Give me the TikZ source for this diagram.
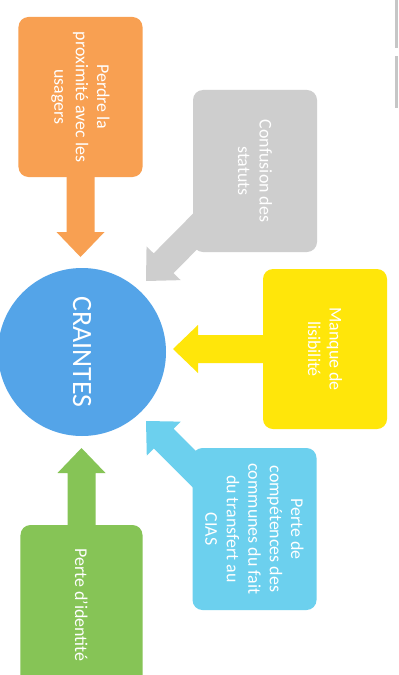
\documentclass[tikz,border=0pt]{standalone}
\usepackage{fontspec}
\setmainfont{Carlito}
\usetikzlibrary{calc}
\definecolor{cOrange}{RGB}{248,160,82}
\definecolor{cGray}{RGB}{206,206,206}
\definecolor{cYellow}{RGB}{255,230,10}
\definecolor{cCyan}{RGB}{108,208,238}
\definecolor{cGreen}{RGB}{134,196,86}
\definecolor{cBlue}{RGB}{84,164,232}
\tikzset{
  box/.style={rectangle, rounded corners=10bp, rotate=-90, minimum width=160bp,
    minimum height=124bp, inner sep=0pt, text=white, align=center,
    font=\fontsize{18}{21.5}\selectfont},
  hub/.style={circle, minimum size=168bp, inner sep=0pt, fill=cBlue, text=white,
    font=\fontsize{28}{30}\selectfont},
}
% block arrow from node #1 to coordinate #2, colour #3
\newcommand{\blockarrow}[3]{%
  \begin{scope}
  \coordinate (hb) at ($(#2)!25bp!(#1)$);
  \fill[#3] ($(#1)!14bp!90:(#2)$) -- ($(hb)!14bp!90:(#2)$) -- ($(hb)!24bp!90:(#2)$)
    -- (#2) -- ($(hb)!24bp!-90:(#2)$) -- ($(hb)!14bp!-90:(#2)$)
    -- ($(#1)!14bp!-90:(#2)$) -- cycle;
  \end{scope}}
\begin{document}
\begin{tikzpicture}[x=1bp,y=-1bp]
\useasboundingbox (0,0) rectangle (398,675);
\fill[white] (0,0) rectangle (398,675);
% coordinates of arrow tips
\coordinate (tO) at (80.5,257);
\coordinate (tG) at (146,281);
\coordinate (tY) at (173,349);
\coordinate (tC) at (146,421);
\coordinate (tN) at (81.5,448);
% anchors at box centres for arrows
\coordinate (cO) at (80.5,97);
\coordinate (cG) at (255,171);
\coordinate (cY) at (325,349);
\coordinate (cC) at (254.5,529);
\coordinate (cN) at (81.5,605);
\blockarrow{cO}{tO}{cOrange}
\blockarrow{cG}{tG}{cGray}
\blockarrow{cY}{tY}{cYellow}
\blockarrow{cC}{tC}{cCyan}
\blockarrow{cN}{tN}{cGreen}
% boxes
\node[box, fill=cOrange] (orange) at (cO) {Perdre la\\proximité avec les\\usagers};
\node[box, fill=cGray, minimum width=162bp] (gray) at (cG) {Confusion des\\statuts};
\node[box, fill=cYellow] (yellow) at (cY) {Manque de\\lisibilité};
\node[box, fill=cCyan, minimum width=162bp] (cyan) at (cC) {Perte de\\compétences des\\communes du fait\\du transfert au\\CIAS};
\node[box, fill=cGreen, minimum height=122bp] (green) at (cN) {Perte d'identité};
% hub
\node[hub, rotate=-90] (hub) at (82,352) {CRAINTES};
% scan mark at the right edge
\fill[gray!45] (395,0) rectangle (398,48);
\fill[gray!45] (395,56) rectangle (398,108);
\end{tikzpicture}
\end{document}
